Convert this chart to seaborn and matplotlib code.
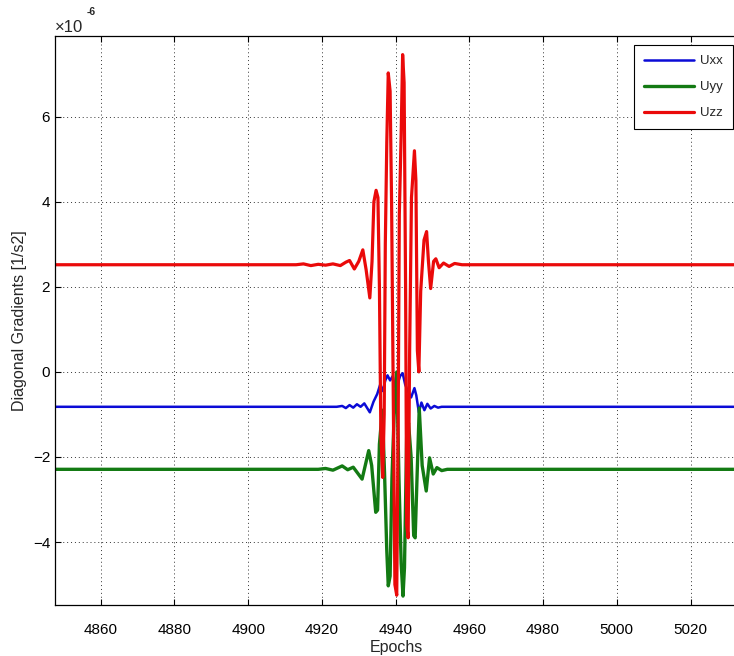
import numpy as np
import pandas as pd
import matplotlib
matplotlib.use("Agg")
import matplotlib.pyplot as plt
import seaborn as sns

# values in units of 1e-6 [1/s2]
uxx_epochs = [4847, 4924, 4925.5, 4926.5, 4927.5, 4928.5, 4929.5, 4930.5, 4931.5, 4933.0,
              4934.0, 4935.0, 4935.8, 4936.5, 4937.2, 4937.8, 4938.5, 4939.2, 4939.8, 4940.5,
              4941.2, 4941.9, 4942.6, 4943.3, 4944.2, 4945.1, 4945.6, 4946.3, 4947.0, 4947.8,
              4948.6, 4949.5, 4950.5, 4951.5, 4952.5, 5040]
uxx = [-0.82, -0.82, -0.80, -0.85, -0.78, -0.84, -0.76, -0.82, -0.74, -0.95,
       -0.70, -0.52, -0.30, -0.45, -0.20, -0.08, -0.20, -0.10, -0.35, -0.30,
       -0.10, -0.03, -0.30, -0.45, -0.60, -0.38, -0.55, -0.95, -0.72, -0.90,
       -0.75, -0.86, -0.80, -0.84, -0.82, -0.82]

uyy_epochs = [4847, 4919, 4921, 4923, 4925.5, 4927, 4928.5, 4930.9, 4932.7, 4933.5,
              4934.6, 4935.1, 4935.6, 4936.4, 4937.0, 4937.6, 4938.0, 4938.5, 4939.0, 4939.6,
              4940.3, 4940.9, 4941.5, 4942.0, 4942.4, 4943.0, 4943.5, 4944.2, 4944.9, 4945.3,
              4945.8, 4946.4, 4947.2, 4948.3, 4949.2, 4950.2, 4951.2, 4952.5, 4954, 5040]
uyy = [-2.29, -2.29, -2.27, -2.31, -2.21, -2.30, -2.24, -2.52, -1.85, -2.20,
       -3.30, -3.25, -1.70, -0.90, -2.40, -4.20, -5.03, -4.80, -2.50, -1.00,
       0.00, -2.50, -4.50, -5.27, -4.60, -1.50, -1.20, -2.00, -3.85, -3.90,
       -2.50, -0.85, -2.20, -2.80, -2.02, -2.40, -2.25, -2.32, -2.29, -2.29]

uzz_epochs = [4847, 4913, 4915, 4917, 4919, 4921, 4923, 4925, 4926.5, 4927.5,
              4928.8, 4930, 4931.1, 4932, 4933.0, 4933.6, 4934.1, 4934.7, 4935.2, 4935.6,
              4936.0, 4936.5, 4936.9, 4937.2, 4937.6, 4938.0, 4938.5, 4938.9, 4939.4, 4939.8,
              4940.3, 4940.7, 4941.0, 4941.5, 4941.9, 4942.3, 4942.7, 4943.0, 4943.4, 4943.8,
              4944.3, 4945.1, 4945.5, 4945.9, 4946.3, 4946.8, 4947.7, 4948.4, 4948.9, 4949.5,
              4950.3, 4950.9, 4951.8, 4953, 4954.5, 4956, 4958, 5040]
uzz = [2.52, 2.52, 2.54, 2.50, 2.53, 2.51, 2.54, 2.50, 2.58, 2.62,
       2.42, 2.60, 2.87, 2.40, 1.74, 2.60, 4.00, 4.27, 4.10, 2.00,
       -1.50, -2.48, -1.00, 3.00, 5.40, 7.03, 6.60, 4.00, -1.00, -5.00,
       -5.25, -1.00, 3.70, 5.60, 7.46, 6.80, 2.00, -3.60, -3.90, 0.50,
       4.10, 5.20, 4.50, 0.50, 0.00, 1.90, 3.10, 3.30, 2.60, 1.96,
       2.60, 2.66, 2.45, 2.56, 2.48, 2.55, 2.52, 2.52]

x_ticks = [4860, 4880, 4900, 4920, 4940, 4960, 4980, 5000, 5020]
y_ticks = [-4, -2, 0, 2, 4, 6]

sns.set_style("ticks")
plt.rcParams["font.family"] = ["Liberation Sans", "DejaVu Sans"]

W, H = 734, 656
fig = plt.figure(figsize=(W / 100, H / 100), dpi=100)
fig.patch.set_facecolor("white")
ax = fig.add_axes([55 / W, (H - 605) / H, (737 - 55) / W, (605 - 35.7) / H])

sns.lineplot(x=uxx_epochs, y=uxx, color="#0b0bd6", lw=1.8, label="Uxx",
             estimator=None, sort=False, ax=ax)
sns.lineplot(x=uyy_epochs, y=uyy, color="#137a13", lw=2.4, label="Uyy",
             estimator=None, sort=False, ax=ax)
sns.lineplot(x=uzz_epochs, y=uzz, color="#ea0a0a", lw=2.3, label="Uzz",
             estimator=None, sort=False, ax=ax)

ax.set_xlim(4847.6, 5032.6)
ax.set_ylim(-5.48, 7.905)
ax.set_xticks(x_ticks)
ax.set_yticks(y_ticks)
ax.grid(True, color="#333333", linestyle=(0, (1, 3)), linewidth=0.7)
ax.tick_params(direction="in", length=4, width=0.8, labelsize=11,
               top=True, right=False, colors="black")
ax.tick_params(axis="x", pad=13)
for s in ["top", "left", "bottom"]:
    ax.spines[s].set_color("black")
    ax.spines[s].set_linewidth(0.9)
ax.spines["right"].set_visible(False)

ax.set_xlabel("Epochs", fontsize=11.5, labelpad=2)
ax.set_ylabel("Diagonal Gradients [1/s2]", fontsize=11.5, labelpad=4)

fig.text(55 / W, 1 - 32 / H, "×10", fontsize=12, ha="left", va="baseline")
fig.text(87 / W, 1 - 15 / H, "-6", fontsize=7.5, ha="left", va="baseline", fontweight="bold")

leg = ax.legend(loc="upper right", bbox_to_anchor=(733 / W, 1 - 45 / H),
                bbox_transform=fig.transFigure, borderaxespad=0, fontsize=9.5,
                handlelength=3.8, labelspacing=1.05, borderpad=0.75, handletextpad=0.5,
                fancybox=False, framealpha=1, edgecolor="black")
leg.get_frame().set_linewidth(0.8)

fig.savefig("out.png", dpi=100, facecolor="white")
